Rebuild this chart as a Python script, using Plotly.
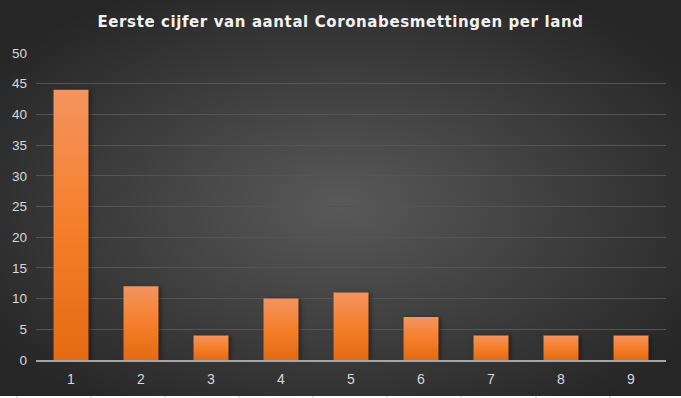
import base64
import plotly.graph_objects as go

digits = ["1", "2", "3", "4", "5", "6", "7", "8", "9"]
counts = [44, 12, 4, 10, 11, 7, 4, 4, 4]
y_ticks = [0, 5, 10, 15, 20, 25, 30, 35, 40, 45, 50]
title_text = "Eerste cijfer van aantal Coronabesmettingen per land"

W, H = 681, 398
ML, MR, MT, MB = 36, 15, 53, 38
PW, PH = W - ML - MR, H - MT - MB

svg = f'''<svg xmlns="http://www.w3.org/2000/svg" width="{W}" height="{H}" viewBox="0 0 {W} {H}">
<defs><radialGradient id="rg" cx="50%" cy="52%" r="62%">
<stop offset="0" stop-color="#595959"/><stop offset="1" stop-color="#262626"/></radialGradient></defs>
<rect width="{W}" height="{H}" fill="#ffffff"/>
<rect width="{W}" height="396" fill="url(#rg)"/>
''' + "".join(f'<line x1="{x}" y1="396" x2="{x}" y2="{H}" stroke="#c8c8c8" stroke-width="1"/>'
              for x in [17, 91, 165, 239, 313, 387, 461, 536, 610]) + "</svg>"
src = "data:image/svg+xml;base64," + base64.b64encode(svg.encode()).decode()

fig = go.Figure()
fig.add_trace(go.Bar(
    x=digits, y=counts, width=0.5,
    marker=dict(color="#F07D2E", line=dict(width=0)),
    hoverinfo="x+y",
))

fig.update_layout(
    width=W, height=H,
    margin=dict(l=ML, r=MR, t=MT, b=MB, pad=0, autoexpand=False),
    paper_bgcolor="#3a3a3a",
    plot_bgcolor="rgba(0,0,0,0)",
    showlegend=False,
    bargap=0.5,
    title=dict(text="<b>" + title_text + "</b>", x=0.5, xanchor="center", y=1 - 22 / H, yanchor="middle",
               font=dict(family="DejaVu Sans", size=15, color="#f2f2f2")),
    images=[dict(source=src, xref="paper", yref="paper",
                 x=-ML / PW, y=1 + MT / PH, sizex=W / PW, sizey=H / PH,
                 xanchor="left", yanchor="top", sizing="stretch", layer="below")],
    xaxis=dict(
        showgrid=False, showline=True, linecolor="#a6a6a6", linewidth=2, automargin=False,
        ticks="", tickfont=dict(family="Liberation Sans", size=14, color="#d9d9d9"), ticklabelstandoff=5,
    ),
    yaxis=dict(
        range=[0, 50], tickvals=y_ticks, showgrid=True, gridcolor="#545454", gridwidth=1, automargin=False,
        zeroline=False, showline=False, ticks="",
        tickfont=dict(family="Liberation Sans", size=13.5, color="#d9d9d9"), ticklabelstandoff=8,
    ),
)

post = """
document.documentElement.style.margin = '0';
document.body.style.margin = '0';
document.body.style.overflow = 'hidden';
var gd = document.getElementsByClassName('plotly-graph-div')[0];
function applyGrad(){
  var svg = gd.querySelector('svg.main-svg');
  if(!svg) return;
  var ns = 'http://www.w3.org/2000/svg';
  if(!document.getElementById('bargrad')){
    var defs = svg.querySelector('defs') || svg.insertBefore(document.createElementNS(ns,'defs'), svg.firstChild);
    var g = document.createElementNS(ns,'linearGradient');
    g.setAttribute('id','bargrad'); g.setAttribute('x1','0'); g.setAttribute('y1','0');
    g.setAttribute('x2','0'); g.setAttribute('y2','1');
    [['0','#f39460'],['0.5','#f57f2a'],['1','#e46a13']].forEach(function(s){
      var st = document.createElementNS(ns,'stop');
      st.setAttribute('offset', s[0]); st.setAttribute('stop-color', s[1]); g.appendChild(st);
    });
    defs.appendChild(g);
  }
  gd.querySelectorAll('.bars .point path').forEach(function(p){
    p.style.fill = 'url(#bargrad)';
    p.style.filter = 'drop-shadow(2px 1px 2px rgba(0,0,0,0.45))';
  });
  gd.querySelectorAll('.gtitle').forEach(function(t){ t.style.letterSpacing = '0.6px'; });
}
applyGrad();
gd.on('plotly_afterplot', applyGrad);
"""

fig.write_html("out.html", post_script=post, config={"displayModeBar": False})
